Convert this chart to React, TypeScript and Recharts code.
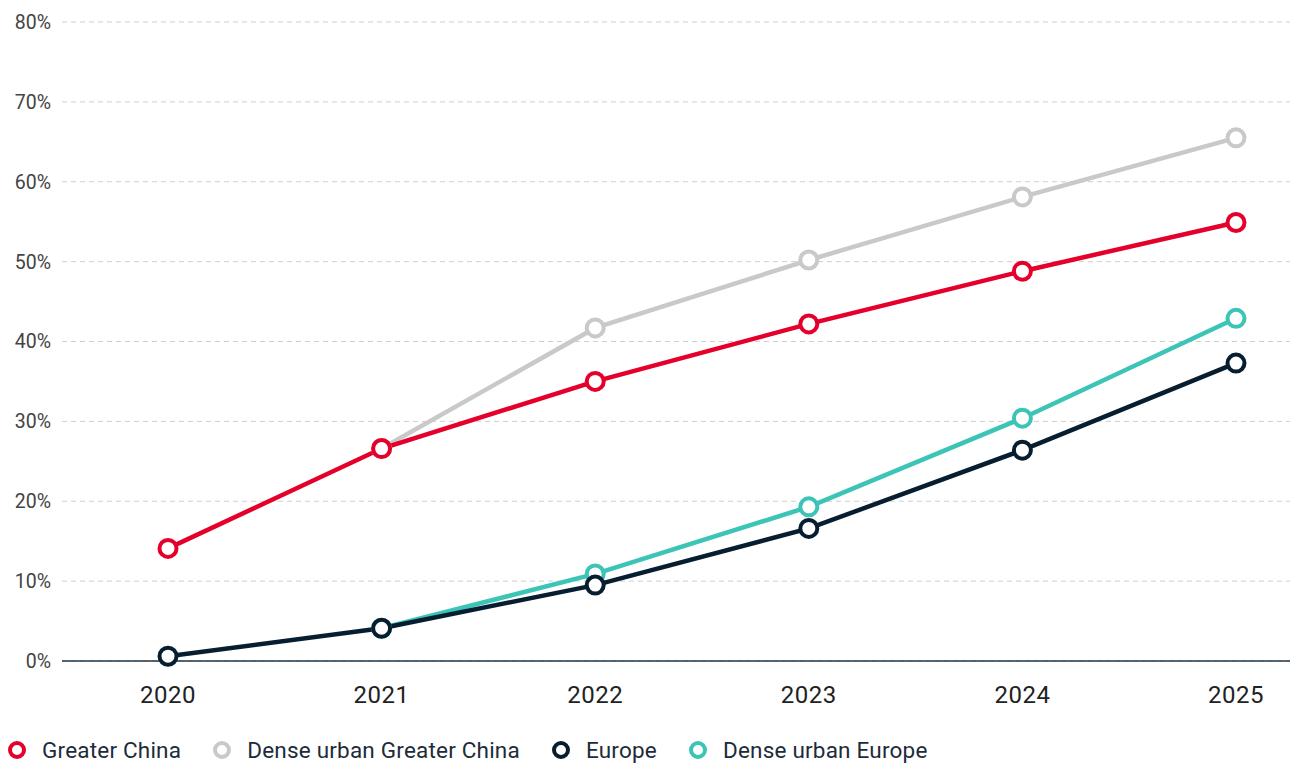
import React from 'react';
import { LineChart, Line, XAxis, YAxis, CartesianGrid } from 'recharts';

const years = ['2020', '2021', '2022', '2023', '2024', '2025'];
const greaterChina = [14.1, 26.6, 35.0, 42.2, 48.8, 54.9];
const denseGreaterChina = [null, 26.6, 41.7, 50.2, 58.1, 65.5];
const europe = [0.6, 4.1, 9.5, 16.6, 26.4, 37.3];
const denseEurope = [null, 4.1, 10.9, 19.3, 30.4, 42.9];
const yTicks = [0, 10, 20, 30, 40, 50, 60, 70, 80];

const series = [
  { key: 'greaterChina', name: 'Greater China', color: '#e4002b' },
  { key: 'denseGreaterChina', name: 'Dense urban Greater China', color: '#c9c9c9' },
  { key: 'europe', name: 'Europe', color: '#071d30' },
  { key: 'denseEurope', name: 'Dense urban Europe', color: '#3cc4b6' },
];

// draw order: grey below red, teal below navy
const drawOrder = ['denseGreaterChina', 'greaterChina', 'denseEurope', 'europe'];

const data = years.map((year, i) => ({
  year,
  greaterChina: greaterChina[i],
  denseGreaterChina: denseGreaterChina[i],
  europe: europe[i],
  denseEurope: denseEurope[i],
}));

const FONT = 'Roboto, "Noto Sans", sans-serif';

const ChartLegend: React.FC = () => (
  <div
    style={{
      position: 'absolute',
      left: 7,
      top: 737,
      display: 'flex',
      alignItems: 'center',
      fontFamily: FONT,
      fontSize: 22.5,
      letterSpacing: 0.2,
      color: '#1d2b3a',
    }}
  >
    {series.map((s) => (
      <div key={s.key} style={{ display: 'flex', alignItems: 'center', marginRight: 31 }}>
        <svg width={20} height={20} style={{ marginRight: 15 }}>
          <circle cx={10} cy={10} r={7} fill="#fff" stroke={s.color} strokeWidth={4} />
        </svg>
        <span>{s.name}</span>
      </div>
    ))}
  </div>
);

const App: React.FC = () => {
  const byKey = Object.fromEntries(series.map((s) => [s.key, s]));
  return (
    <div style={{ position: 'absolute', left: 0, top: 0, width: 1292, height: 764, background: '#fff' }}>
      <LineChart width={1292} height={764} data={data} margin={{ top: 22, right: 2, left: 0, bottom: 73 }}>
        <CartesianGrid vertical={false} stroke="#cfcfcf" strokeDasharray="5 4" />
        <XAxis
          dataKey="year"
          height={30}
          padding={{ left: 106, right: 54 }}
          axisLine={{ stroke: '#1f3445', strokeWidth: 1.5 }}
          tickLine={false}
          tickSize={0}
          tickMargin={25}
          tick={{ fill: '#222', fontSize: 24, fontFamily: FONT, letterSpacing: 0.5 }}
        />
        <YAxis
          width={62}
          domain={[0, 80]}
          ticks={yTicks}
          tickFormatter={(v) => `${v}%`}
          axisLine={false}
          tickLine={false}
          tickSize={0}
          tickMargin={11}
          tick={{ fill: '#444', fontSize: 19.5, fontFamily: FONT }}
        />
        {drawOrder.map((k) => (
          <Line
            key={k}
            type="linear"
            dataKey={k}
            name={byKey[k].name}
            stroke={byKey[k].color}
            strokeWidth={4.5}
            dot={{ r: 8.5, fill: '#fff', stroke: byKey[k].color, strokeWidth: 4 }}
            activeDot={false}
            isAnimationActive={false}
          />
        ))}
      </LineChart>
      <ChartLegend />
    </div>
  );
};

export default App;
